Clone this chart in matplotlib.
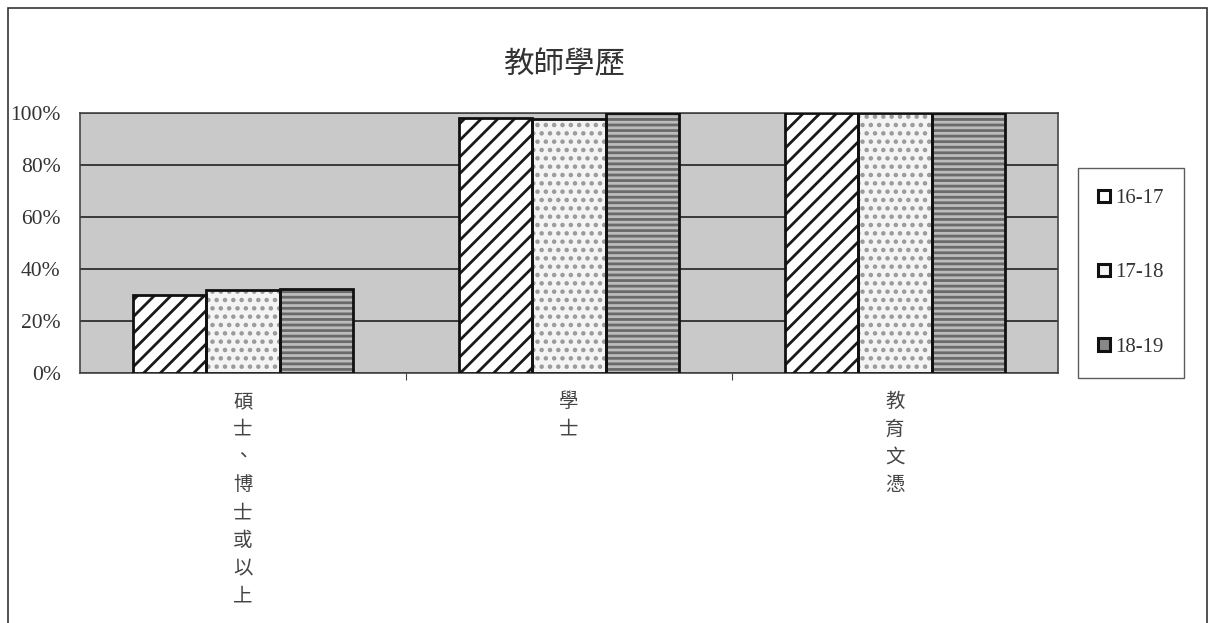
import matplotlib.pyplot as plt
import numpy as np
from matplotlib.patches import Rectangle

plt.rcParams['font.family'] = ['Liberation Serif', 'Noto Sans CJK TC']
plt.rcParams['hatch.linewidth'] = 2.0

categories = ['碩士、博士或以上', '學士', '教育文憑']
series = ['16-17', '17-18', '18-19']
values = {
    '16-17': [0.30, 0.98, 1.00],
    '17-18': [0.32, 0.977, 1.00],
    '18-19': [0.325, 1.00, 1.00],
}
yticks = [0, 0.2, 0.4, 0.6, 0.8, 1.0]
ytick_labels = ['0%', '20%', '40%', '60%', '80%', '100%']

# face colour, hatch pattern, hatch colour
styles = {
    '16-17': ('white', '//', '#1a1a1a'),
    '17-18': ('#f4f4f4', '..', '#9a9a9a'),
    '18-19': ('#bcbcbc', '---', '#6a6a6a'),
}

fig = plt.figure(figsize=(12.18, 6.23), dpi=100)
fig.patches.append(Rectangle((8 / 1218, -0.01), 1199 / 1218, 1 - 8 / 623 + 0.01,
                             transform=fig.transFigure, fill=False,
                             edgecolor='#333333', linewidth=1.2))
ax = fig.add_axes([80 / 1218, 1 - 373 / 623, 978 / 1218, 260 / 623])
ax.set_facecolor('#c9c9c9')

x = np.arange(len(categories))
w = 0.225
for i, s in enumerate(series):
    fc, hatch, hc = styles[s]
    pos = x + (i - 1) * w
    ax.bar(pos, values[s], w, color=fc, linewidth=0, zorder=3)
    ax.bar(pos, values[s], w, facecolor='none', edgecolor=hc, hatch=hatch,
           linewidth=0, zorder=4)
    ax.bar(pos, values[s], w, facecolor='none', edgecolor='#111111',
           linewidth=2, zorder=5)

ax.set_xlim(-0.5, len(categories) - 0.5)
ax.set_ylim(0, 1)
ax.set_yticks(yticks)
ax.set_yticklabels(ytick_labels, fontsize=15.5, color='#333333')
ax.yaxis.grid(True, color='#222222', linewidth=1.2, zorder=1)
ax.tick_params(axis='y', length=0, pad=14)

ax.set_xticks([0.5, 1.5])
ax.set_xticklabels([])
ax.tick_params(axis='x', length=5, direction='out', color='#444444')
for i, c in enumerate(categories):
    ax.text(i, -0.07, '\n'.join(c), ha='center', va='top', fontsize=14,
            color='#444444', linespacing=1.42,
            family=['Noto Sans CJK TC', 'DejaVu Sans'])
for sp in ax.spines.values():
    sp.set_color('#444444')
    sp.set_linewidth(1.2)

fig.text(565 / 1218, 1 - 65 / 623, '教師學歷', ha='center', va='center',
         fontsize=22, color='#333333', family=['Noto Sans CJK TC', 'DejaVu Sans'])

handle_fc = {'16-17': 'white', '17-18': '#f4f4f4', '18-19': '#888888'}
handles = [Rectangle((0, 0), 1, 1, facecolor=handle_fc[s], edgecolor='#111111',
                     linewidth=2.2) for s in series]
leg = fig.legend(handles, series, loc='center',
                 bbox_to_anchor=(1131 / 1218, 1 - 273 / 623),
                 fontsize=15, frameon=True, fancybox=False,
                 handlelength=0.55, handleheight=0.55, handletextpad=0.25,
                 labelspacing=2.65, borderpad=1.0, borderaxespad=0)
leg.get_frame().set_edgecolor('#333333')
leg.get_frame().set_linewidth(1.0)
for t in leg.get_texts():
    t.set_color('#333333')

fig.savefig('out.png', dpi=100)
